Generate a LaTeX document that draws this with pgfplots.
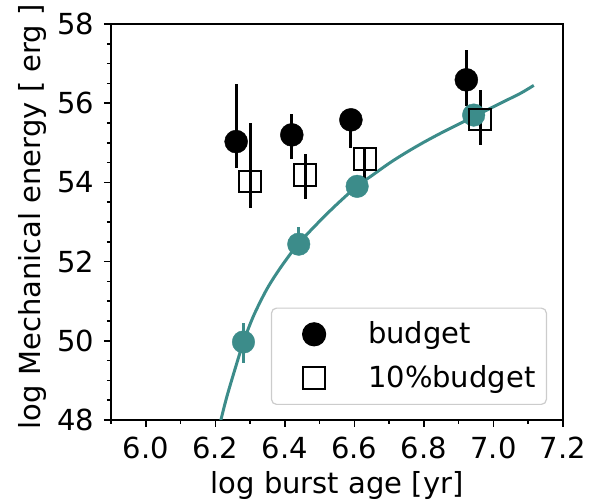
\documentclass[border=0pt]{standalone}
\usepackage{fontspec}
\setmainfont{DejaVu Sans}
\usepackage{pgfplots}
\pgfplotsset{compat=1.18}
\definecolor{tealc}{RGB}{60,140,138}
\newcommand{\bigf}{\fontsize{29}{35}\selectfont}
\pgfplotsset{myleg/.style={legend image code/.code={\path (-31pt,0pt) (11.5pt,0pt); \draw[##1] plot coordinates {(0pt,0pt)};}}}
\begin{document}
\bigf
\begin{tikzpicture}
\begin{axis}[
  scale only axis, width=452pt, height=396pt,
  xmin=5.9, xmax=7.2, ymin=48, ymax=58,
  xtick={6.0,6.2,6.4,6.6,6.8,7.0,7.2},
  xticklabels={6.0,6.2,6.4,6.6,6.8,7.0,7.2},
  minor xtick={5.9,6.1,6.3,6.5,6.7,6.9,7.1},
  ytick={48,50,52,54,56,58},
  minor ytick={48.5,49,49.5,50.5,51,51.5,52.5,53,53.5,54.5,55,55.5,56.5,57,57.5},
  tick align=outside, xtick pos=bottom, ytick pos=left,
  major tick length=7pt, minor tick length=4pt,
  every tick/.style={black, line width=1.5pt},
  axis line style={line width=1.5pt},
  /pgf/number format/assume math mode=true,
  ticklabel style={font=\bigf},
  xlabel={log burst age [yr]},
  ylabel={log Mechanical energy [ erg ]},
  xlabel style={font=\bigf, at={(axis description cs:0.5,0)}, anchor=north, yshift=-51.7pt, inner sep=0pt},
  ylabel style={font=\bigf, at={(axis description cs:0,0.5134)}, anchor=north, yshift=93pt, inner sep=0pt},
  legend style={at={(axis description cs:0.9646,0.0379)}, anchor=south east,
    draw=black!20, line width=1.2pt, rounded corners=5pt,
    inner xsep=11pt, inner ysep=13pt, row sep=17.5pt, font=\bigf,
    nodes={inner sep=0pt},
    /tikz/column 1/.style={column sep=41.9pt}},
  legend cell align=left,
]
\addplot[tealc, line width=3pt, smooth, forget plot] coordinates {
(6.210,47.78) (6.216,48.00) (6.232,48.55) (6.252,49.15) (6.281,49.97)
(6.310,50.63) (6.348,51.30) (6.387,51.84) (6.438,52.44) (6.500,53.02)
(6.550,53.45) (6.607,53.90) (6.650,54.17) (6.703,54.50) (6.750,54.76)
(6.799,55.01) (6.850,55.25) (6.900,55.47) (6.948,55.68) (7.000,55.91)
(7.039,56.08) (7.080,56.26) (7.116,56.45)
};
\addplot[only marks, mark=*, mark size=11.3pt, tealc, forget plot,
  error bars/.cd, y dir=both, y explicit, error mark=none,
  error bar style={line width=3pt}]
  table[x=x, y=y, y error plus=ep, y error minus=em] {
x y ep em
6.281 49.97 0.49 0.54
6.440 52.44 0.43 0.20
6.608 53.90 0.20 0.20
6.943 55.70 0.20 0.20
};
\addplot[only marks, mark=*, mark size=11.5pt, black, myleg,
  error bars/.cd, y dir=both, y explicit, error mark=none,
  error bar style={line width=3pt}]
  table[x=x, y=y, y error plus=ep, y error minus=em] {
x y ep em
6.260 55.03 1.46 0.67
6.420 55.20 0.52 0.62
6.590 55.58 0.28 0.70
6.922 56.59 0.75 0.66
};
\addlegendentry{budget}
\addplot[only marks, mark=square, mark size=10.8pt, black, mark options={line width=2pt}, myleg,
  error bars/.cd, y dir=both, y explicit, error mark=none,
  error bar style={line width=3pt}]
  table[x=x, y=y, y error plus=ep, y error minus=em] {
x y ep em
6.300 54.02 1.47 0.67
6.458 54.19 0.53 0.61
6.630 54.59 0.28 0.71
6.962 55.59 0.74 0.65
};
\addlegendentry{10\%budget}
\end{axis}
\pgfresetboundingbox
\path (current axis.south west) ++(-111pt,-82pt) rectangle ++(595pt,502pt);
\end{tikzpicture}
\end{document}
